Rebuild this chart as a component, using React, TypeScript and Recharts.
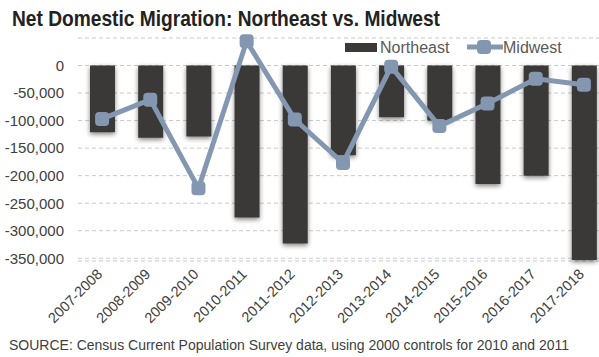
import React from "react";
import {
  ComposedChart,
  Bar,
  Line,
  XAxis,
  YAxis,
  CartesianGrid,
  Rectangle,
} from "recharts";

const periods = [
  "2007-2008",
  "2008-2009",
  "2009-2010",
  "2010-2011",
  "2011-2012",
  "2012-2013",
  "2013-2014",
  "2014-2015",
  "2015-2016",
  "2016-2017",
  "2017-2018",
];
const northeast = [
  -121000, -131000, -129000, -276000, -323000, -163000, -94000, -100000,
  -215000, -200000, -353000,
];
const midwest = [
  -97000, -62000, -223000, 44000, -98000, -177000, -2000, -110000, -69000,
  -24000, -35000,
];
const yTicks = [0, -50000, -100000, -150000, -200000, -250000, -300000, -350000];

const data = periods.map((period, i) => ({
  period,
  northeast: northeast[i],
  midwest: midwest[i],
}));

const NE_COLOR = "#3b3838";
const MW_COLOR = "#8497b0";
const FONT = "'Liberation Sans', Arial, sans-serif";

// bars get a soft drop shadow like the Excel original
function ShadowBar(props: any) {
  const { x, y, width, height } = props;
  return (
    <g filter="url(#barShadow)">
      <Rectangle x={x} y={y} width={width} height={height} fill={NE_COLOR} />
    </g>
  );
}

function SquareDot(props: any) {
  const { cx, cy, index } = props;
  if (cx == null || cy == null) return null;
  return (
    <rect key={index} x={cx - 7} y={cy - 7} width={14} height={14} rx={4} fill={MW_COLOR} />
  );
}

function XTick(props: any) {
  const { x, y, payload } = props;
  const px = Number(x) + 1;
  const py = Number(y);
  return (
    <g transform={`translate(${px},${py}) rotate(-45)`}>
      <text x={0} y={0} textAnchor="end" fontSize={14.5} fill="#404040" fontFamily={FONT}>
        {payload.value}
      </text>
    </g>
  );
}

const fmt = (v: number) => v.toLocaleString("en-US");

export default function App() {
  return (
    <div
      style={{
        position: "absolute",
        left: 0,
        top: 0,
        width: 599,
        height: 357,
        overflow: "hidden",
        background: "#fff",
        fontFamily: FONT,
      }}
    >
      <svg width={0} height={0} style={{ position: "absolute" }}>
        <defs>
          <filter id="barShadow" x="-30%" y="-10%" width="160%" height="120%">
            <feGaussianBlur in="SourceAlpha" stdDeviation="2.5" />
            <feOffset dx="0" dy="2" result="blur" />
            <feComponentTransfer>
              <feFuncA type="linear" slope="0.5" />
            </feComponentTransfer>
            <feMerge>
              <feMergeNode />
              <feMergeNode in="SourceGraphic" />
            </feMerge>
          </filter>
        </defs>
      </svg>
      <ComposedChart
        width={608}
        height={357}
        data={data}
        margin={{ top: 38, right: 0, bottom: 0, left: 0 }}
      >
        <CartesianGrid
          vertical={false}
          stroke="#c9c9c9"
          strokeDasharray="4 3"
        />
        <XAxis
          dataKey="period"
          axisLine={false}
          tickLine={false}
          tickSize={6}
          tickMargin={8}
          height={96}
          interval={0}
          tick={<XTick />}
        />
        <YAxis
          width={78}
          domain={[-355000, 50000]}
          ticks={yTicks}
          axisLine={false}
          tickLine={false}
          tickMargin={8}
          tickFormatter={fmt}
          tick={{ fontSize: 15, fill: "#404040", fontFamily: FONT }}
          interval={0}
        />
        <Bar
          dataKey="northeast"
          barSize={25}
          shape={<ShadowBar />}
          isAnimationActive={false}
        />
        <Line
          dataKey="midwest"
          stroke={MW_COLOR}
          strokeWidth={5}
          dot={<SquareDot />}
          activeDot={false}
          isAnimationActive={false}
        />
      </ComposedChart>
      <svg
        width={599}
        height={357}
        style={{ position: "absolute", left: 0, top: 0, pointerEvents: "none" }}
      >
        <text
          x={12}
          y={26}
          fontSize={22}
          fontWeight="bold"
          fill="#222"
          fontFamily={FONT}
          textLength={428}
          lengthAdjust="spacingAndGlyphs"
        >
          Net Domestic Migration: Northeast vs. Midwest
        </text>
        <rect x={345} y={43} width={32} height={9} fill={NE_COLOR} />
        <text x={380} y={53} fontSize={16} fill="#595959" fontFamily={FONT}>
          Northeast
        </text>
        <line x1={467} y1={47} x2={503} y2={47} stroke={MW_COLOR} strokeWidth={5} />
        <rect x={477} y={40} width={14} height={14} rx={4} fill={MW_COLOR} />
        <text x={503} y={53} fontSize={16} fill="#595959" fontFamily={FONT}>
          Midwest
        </text>
        <text x={9} y={350} fontSize={14} fill="#404040" fontFamily={FONT}>
          SOURCE: Census Current Population Survey data, using 2000 controls for 2010 and 2011
        </text>
      </svg>
    </div>
  );
}
